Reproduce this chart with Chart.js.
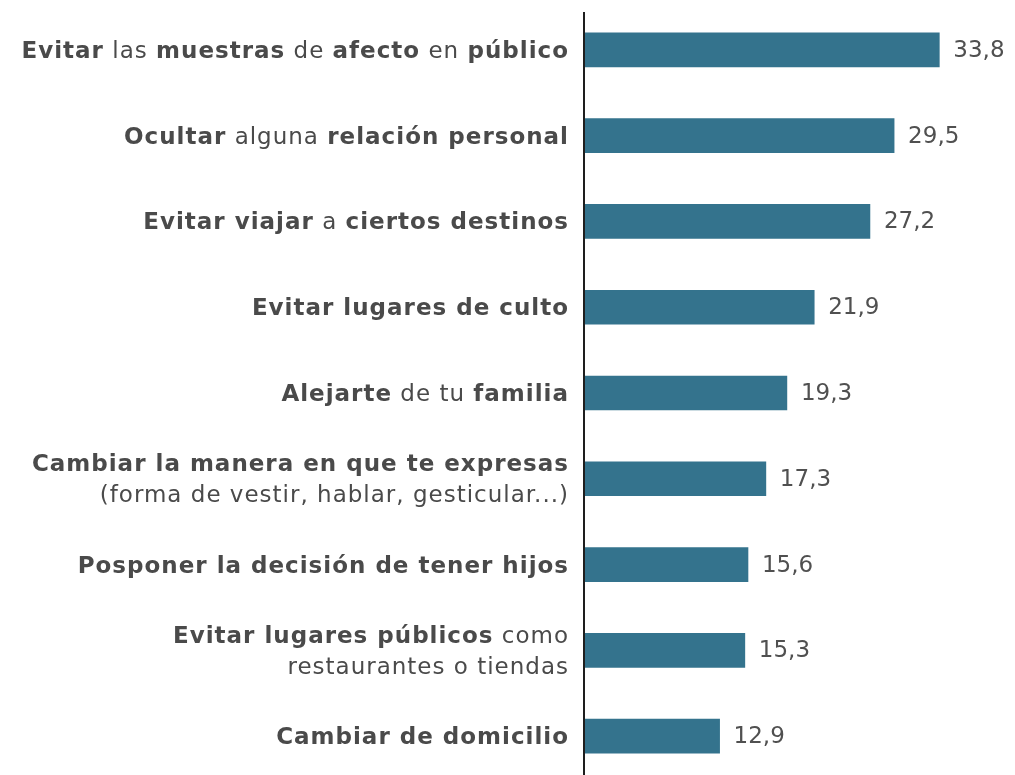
<!DOCTYPE html>
<html lang="es">
<head>
<meta charset="utf-8">
<script src="https://cdn.jsdelivr.net/npm/chart.js@4.4.1/dist/chart.umd.min.js"></script>
<style>
  html, body { margin: 0; padding: 0; background: #ffffff; overflow: hidden; }
  #wrap { position: absolute; left: 0; top: 0; width: 1015px; height: 786px; }
</style>
</head>
<body>
<div id="wrap"><canvas id="chart"></canvas></div>
<script>
// Category labels: each entry is a list of lines; **...** marks bold runs
const categories = [
  ['**Evitar** las **muestras** de **afecto** en **público**'],
  ['**Ocultar** alguna **relación personal**'],
  ['**Evitar viajar** a **ciertos destinos**'],
  ['**Evitar lugares de culto**'],
  ['**Alejarte** de tu **familia**'],
  ['**Cambiar la manera en que te expresas**', '(forma de vestir, hablar, gesticular...)'],
  ['**Posponer la decisión de tener hijos**'],
  ['**Evitar lugares públicos** como', 'restaurantes o tiendas'],
  ['**Cambiar de domicilio**']
];
const values = [33.8, 29.5, 27.2, 21.9, 19.3, 17.3, 15.6, 15.3, 12.9];

const FONT = '"DejaVu Sans", "Open Sans", sans-serif';
const TEXT_COLOR = '#4a4a4a';
const BAR_COLOR = '#34738d';
const AXIS_LEFT = 584;

function parseRuns(line) {
  const runs = [];
  const parts = line.split('**');
  parts.forEach((p, i) => { if (p) runs.push({ text: p, bold: i % 2 === 1 }); });
  return runs;
}

// Labels to the left of the axis, mixing bold and regular runs, right-aligned
const categoryLabels = {
  id: 'categoryLabels',
  afterDraw(chart) {
    const { ctx } = chart;
    const yScale = chart.scales.y;
    const right = chart.chartArea.left - 16;
    const size = 23;
    const lineGap = 31;
    ctx.save();
    ctx.fillStyle = TEXT_COLOR;
    ctx.textBaseline = 'middle';
    ctx.textAlign = 'left';
    ctx.letterSpacing = '1px';
    categories.forEach((lines, i) => {
      const cy = yScale.getPixelForValue(i) + 2;
      lines.forEach((line, li) => {
        const y = cy + (li - (lines.length - 1) / 2) * lineGap;
        const runs = parseRuns(line);
        let total = 0;
        runs.forEach(r => {
          ctx.font = (r.bold ? '700 ' : '400 ') + size + 'px ' + FONT;
          r.w = ctx.measureText(r.text).width;
          total += r.w;
        });
        total -= 1; // trailing letter spacing
        let x = right - total;
        runs.forEach(r => {
          ctx.font = (r.bold ? '700 ' : '400 ') + size + 'px ' + FONT;
          ctx.fillText(r.text, x, y);
          x += r.w;
        });
      });
    });
    ctx.restore();
  }
};

// Value labels at the end of each bar, plus the vertical axis line
const valueLabels = {
  id: 'valueLabels',
  afterDatasetsDraw(chart) {
    const { ctx, chartArea } = chart;
    const meta = chart.getDatasetMeta(0);
    ctx.save();
    ctx.fillStyle = '#505050';
    ctx.font = '400 23px ' + FONT;
    ctx.textBaseline = 'middle';
    ctx.textAlign = 'left';
    meta.data.forEach((bar, i) => {
      const label = values[i].toFixed(1).replace('.', ',');
      ctx.fillText(label, bar.x + 14, bar.y + 1);
    });
    ctx.strokeStyle = '#1e1e1e';
    ctx.lineWidth = 2;
    ctx.beginPath();
    ctx.moveTo(chartArea.left, chartArea.top + 5);
    ctx.lineTo(chartArea.left, chart.height);
    ctx.stroke();
    ctx.restore();
  }
};

new Chart(document.getElementById('chart'), {
  type: 'bar',
  data: {
    labels: categories.map(c => c.join(' ').replace(/\*\*/g, '')),
    datasets: [{
      data: values,
      backgroundColor: BAR_COLOR,
      borderWidth: 0,
      barThickness: 34
    }]
  },
  options: {
    indexAxis: 'y',
    responsive: true,
    maintainAspectRatio: false,
    animation: false,
    layout: { padding: { top: 7, bottom: 7, left: 0, right: 0 } },
    plugins: { legend: { display: false }, tooltip: { enabled: false } },
    scales: {
      x: {
        min: 0,
        max: 41,
        display: false
      },
      y: {
        display: true,
        ticks: { display: false },
        grid: { display: false },
        border: { display: false },
        afterFit(scale) { scale.width = AXIS_LEFT; }
      }
    }
  },
  plugins: [categoryLabels, valueLabels]
});
</script>
</body>
</html>
